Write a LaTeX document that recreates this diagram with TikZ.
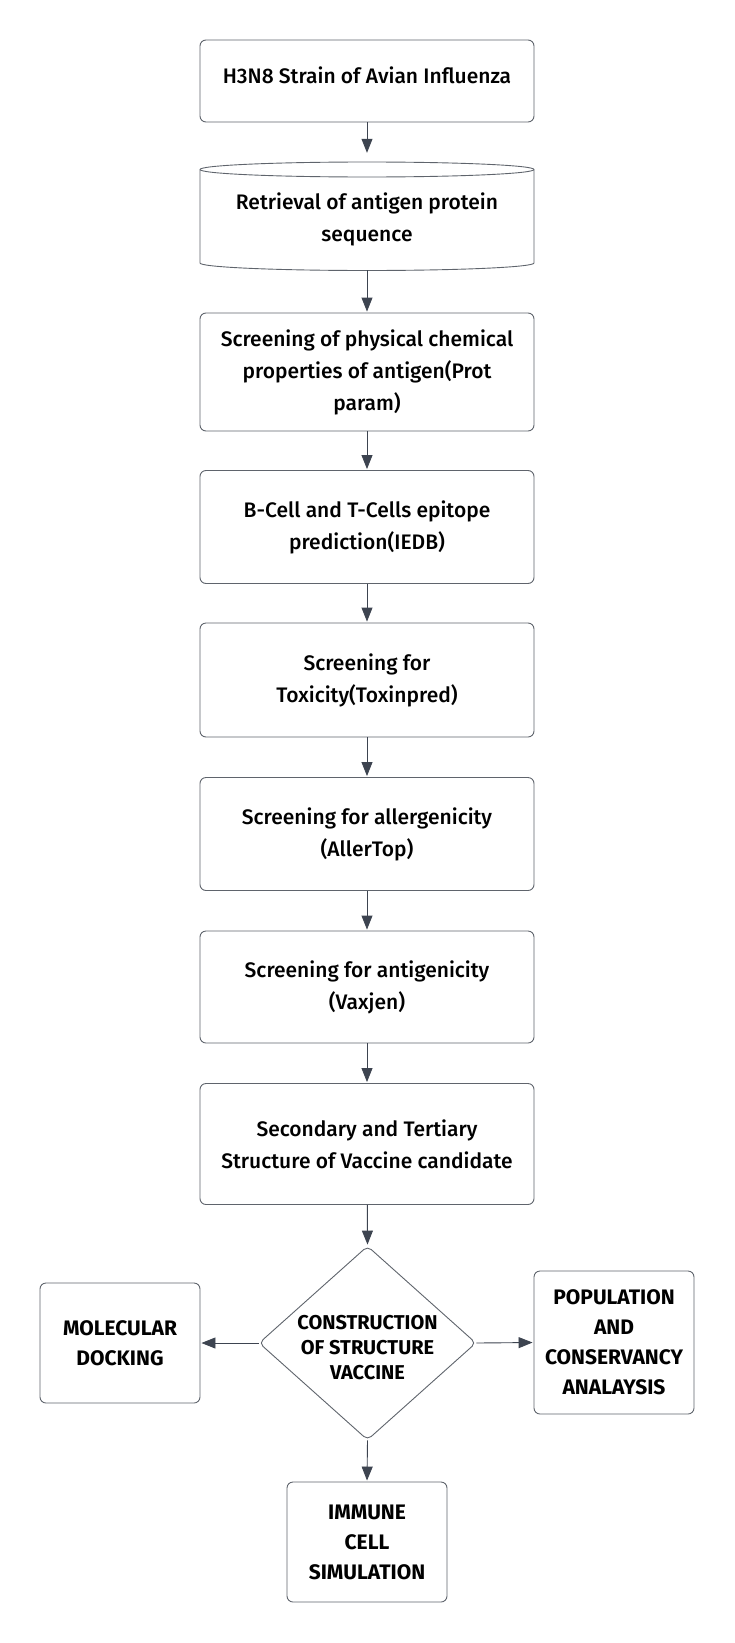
\documentclass[tikz,border=0pt]{standalone}
\usepackage{fontspec}
\setmainfont{Fira Sans}[UprightFont=* Medium, BoldFont=* Bold]
\usetikzlibrary{arrows.meta,shapes.geometric}
\definecolor{edgegray}{HTML}{5F646C}
\definecolor{arrowcol}{HTML}{3D4450}
\tikzset{
  mainfont/.style={font=\fontsize{21}{32}\selectfont},
  flowbox/.style={draw=edgegray, line width=0.9pt, rounded corners=6pt, fill=white,
    minimum width=334pt, align=center, inner sep=0pt, mainfont},
  sidebox/.style={draw=edgegray, line width=0.9pt, rounded corners=6pt, fill=white,
    minimum width=160pt, align=center, inner sep=0pt,
    font=\fontsize{21}{30}\selectfont\bfseries},
  flowarrow/.style={draw=arrowcol, line width=0.9pt, -{Triangle[length=14pt,width=11pt]}},
}
\begin{document}
\begin{tikzpicture}[x=1pt,y=-1pt]
\useasboundingbox (0,0) rectangle (735,1643);

% box 1
\node[flowbox, minimum height=82pt,
  label={[mainfont, yshift=6pt]center:H3N8 Strain of Avian Influenza}]
  (b1) at (367,81) {};

% cylinder
\node[minimum width=334pt, minimum height=108pt, inner sep=0pt] (cyl) at (367,216) {};
\draw[edgegray, line width=0.9pt, fill=white]
  (200,169.5) -- (200,263) arc[start angle=180, end angle=360, x radius=167, y radius=-7.5]
  -- (534,169.5) arc[start angle=0, end angle=180, x radius=167, y radius=-7.5] -- cycle;
\draw[edgegray, line width=0.9pt]
  (200,169.5) arc[start angle=180, end angle=360, x radius=167, y radius=-7.5];
\node[align=center, mainfont] (cyltext) at (367,219)
  {Retrieval of antigen protein\\sequence};

\node[flowbox, minimum height=118pt] (b3) at (367,372)
  {Screening of physical chemical\\properties of antigen(Prot\\param)};
\node[flowbox, minimum height=113pt] (b4) at (367,527)
  {B-Cell and T-Cells epitope\\prediction(IEDB)};
\node[flowbox, minimum height=114pt] (b5) at (367,680)
  {Screening for\\Toxicity(Toxinpred)};
\node[flowbox, minimum height=113pt] (b6) at (367,834)
  {Screening for allergenicity\\(AllerTop)};
\node[flowbox, minimum height=112pt] (b7) at (367,987)
  {Screening for antigenicity\\(Vaxjen)};
\node[flowbox, minimum height=121pt] (b8) at (367,1144)
  {Secondary and Tertiary\\Structure of Vaccine candidate};

% diamond
\node[diamond, draw=edgegray, line width=0.9pt, rounded corners=5pt, fill=white,
  aspect=1.117, minimum width=217pt, minimum height=194pt, inner sep=0pt,
  label={[align=center, font=\fontsize{20}{25}\selectfont\bfseries, yshift=-5pt]center:CONSTRUCTION\\OF STRUCTURE\\VACCINE}]
  (dia) at (367.5,1343) {};

\node[sidebox, minimum height=120pt] (mol) at (120,1343) {MOLECULAR\\DOCKING};
\node[sidebox, minimum height=143pt] (pop) at (614,1342.5)
  {POPULATION\\AND\\CONSERVANCY\\ANALAYSIS};
\node[sidebox, minimum height=120pt] (imm) at (367,1542) {IMMUNE\\CELL\\SIMULATION};

% connectors
\draw[flowarrow, shorten >=9pt] (b1) -- (cyl);
\draw[flowarrow, shorten >=1pt] (cyl) -- (b3);
\draw[flowarrow, shorten >=1pt] (b3) -- (b4);
\draw[flowarrow, shorten >=1pt] (b4) -- (b5);
\draw[flowarrow, shorten >=1pt] (b5) -- (b6);
\draw[flowarrow, shorten >=1pt] (b6) -- (b7);
\draw[flowarrow, shorten >=1pt] (b7) -- (b8);
\draw[flowarrow, shorten >=1pt] (b8) -- (dia.north);
\draw[flowarrow, shorten >=1pt] (dia.west) -- (mol.east);
\draw[flowarrow, shorten >=1pt] (dia.east) -- (pop.west);
\draw[flowarrow, shorten >=1pt] (dia.south) -- (imm.north);
\end{tikzpicture}
\end{document}
